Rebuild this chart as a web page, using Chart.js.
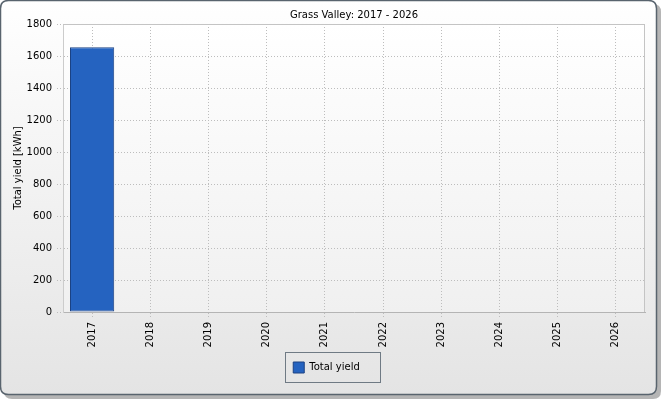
<!DOCTYPE html>
<html>
<head>
<meta charset="utf-8">
<script src="https://cdn.jsdelivr.net/npm/chart.js@4/dist/chart.umd.min.js"></script>
<style>
html,body{margin:0;padding:0;background:#ffffff;}
#wrap{width:662px;height:400px;position:relative;}
</style>
</head>
<body>
<div id="wrap"><canvas id="c" width="662" height="400"></canvas></div>
<script>
const chartTitle = "Grass Valley: 2017 - 2026";
const categories = ["2017","2018","2019","2020","2021","2022","2023","2024","2025","2026"];
const totalYield = [1655, 0, 0, 0, 0, 0, 0, 0, 0, 0];
const seriesLabel = "Total yield";
const yAxisTitle = "Total yield [kWh]";
const yTicks = [0,200,400,600,800,1000,1200,1400,1600,1800];

const FONT = "'DejaVu Sans', Verdana, sans-serif";
const FS = 10;

const framePlugin = {
  id: 'frame',
  beforeDraw(chart) {
    const ctx = chart.ctx;
    const W = 657, H = 395, r = 8;
    ctx.save();
    ctx.fillStyle = 'rgba(120,120,120,0.55)';
    roundRect(ctx, 4, 4, W, H, r); ctx.fill();
    const g = ctx.createLinearGradient(0, 0, 0, H);
    g.addColorStop(0, '#ffffff');
    g.addColorStop(1, '#e4e4e4');
    ctx.fillStyle = g;
    roundRect(ctx, 0.5, 0.5, W - 1, H - 1, r); ctx.fill();
    ctx.lineWidth = 1.5;
    ctx.strokeStyle = '#59646e';
    ctx.stroke();
    const a = chart.chartArea;
    const g2 = ctx.createLinearGradient(0, a.top, 0, a.bottom);
    g2.addColorStop(0, '#ffffff');
    g2.addColorStop(1, '#f0f0f0');
    ctx.fillStyle = g2;
    ctx.fillRect(a.left, a.top, a.right - a.left, a.bottom - a.top);
    ctx.restore();
  },
  afterDraw(chart) {
    const ctx = chart.ctx;
    const a = chart.chartArea;
    ctx.save();
    ctx.strokeStyle = '#c4c4c4';
    ctx.lineWidth = 1;
    ctx.beginPath();
    ctx.moveTo(a.left, a.top + 0.5); ctx.lineTo(a.right, a.top + 0.5);
    ctx.moveTo(a.right - 0.5, a.top); ctx.lineTo(a.right - 0.5, a.bottom);
    ctx.stroke();
    ctx.fillStyle = '#000000';
    ctx.font = FS + 'px ' + FONT;
    ctx.textAlign = 'center';
    ctx.textBaseline = 'middle';
    ctx.fillText(chartTitle, (a.left + a.right) / 2, 15);
    const lg = chart.legend;
    if (lg && lg.legendHitBoxes && lg.legendHitBoxes.length) {
      const hb = lg.legendHitBoxes[0];
      ctx.strokeStyle = '#6f7a84';
      ctx.lineWidth = 1;
      ctx.strokeRect(Math.round(hb.left - 8) + 0.5, Math.round(hb.top - 10) + 0.5,
                     Math.round(hb.width + 28), 30);
    }
    ctx.restore();
  }
};
function roundRect(ctx, x, y, w, h, r) {
  ctx.beginPath();
  ctx.moveTo(x + r, y);
  ctx.lineTo(x + w - r, y); ctx.quadraticCurveTo(x + w, y, x + w, y + r);
  ctx.lineTo(x + w, y + h - r); ctx.quadraticCurveTo(x + w, y + h, x + w - r, y + h);
  ctx.lineTo(x + r, y + h); ctx.quadraticCurveTo(x, y + h, x, y + h - r);
  ctx.lineTo(x, y + r); ctx.quadraticCurveTo(x, y, x + r, y);
  ctx.closePath();
}

new Chart(document.getElementById('c'), {
  type: 'bar',
  data: {
    labels: categories,
    datasets: [{
      label: seriesLabel,
      data: totalYield,
      backgroundColor: '#2563c0',
      borderColor: '#1c4283',
      borderWidth: 1,
      borderSkipped: false,
      categoryPercentage: 1.0,
      barPercentage: 0.76
    }]
  },
  options: {
    responsive: false,
    animation: false,
    devicePixelRatio: 1,
    layout: { padding: { left: 8, right: 17, top: 24, bottom: 17 } },
    plugins: {
      title: { display: false },
      tooltip: { enabled: false },
      legend: {
        display: true,
        position: 'bottom',
        labels: {
          boxWidth: 11, boxHeight: 11, padding: 10,
          color: '#000000',
          font: { family: FONT, size: FS },
          generateLabels(chart) {
            const ds = chart.data.datasets[0];
            return [{ text: ds.label, fillStyle: ds.backgroundColor, strokeStyle: ds.borderColor, lineWidth: 1, datasetIndex: 0 }];
          }
        }
      }
    },
    scales: {
      x: {
        offset: true,
        afterFit(s) { s.height = 40; },
        grid: { offset: false, color: '#bdbdbd', tickLength: 6, tickColor: '#bdbdbd', tickBorderDash: [1, 2] },
        border: { display: true, color: '#b4b4b4', dash: [1, 2] },
        ticks: {
          minRotation: 90, maxRotation: 90, padding: 4, autoSkip: false,
          color: '#000000', font: { family: FONT, size: FS }
        }
      },
      y: {
        min: 0, max: 1800,
        afterFit(s) { s.width = 55; },
        afterBuildTicks(s) { s.ticks = yTicks.map(v => ({ value: v })); },
        grid: { color: '#bdbdbd', tickLength: 6, tickColor: '#bdbdbd', tickBorderDash: [1, 2] },
        border: { display: true, color: '#cccccc', dash: [1, 2] },
        ticks: { padding: 5, color: '#000000', font: { family: FONT, size: FS }, callback: v => String(v) },
        title: { display: true, text: yAxisTitle, color: '#000000', font: { family: FONT, size: FS }, padding: { top: 4, bottom: 0 } }
      }
    }
  },
  plugins: [framePlugin]
});
</script>
</body>
</html>
